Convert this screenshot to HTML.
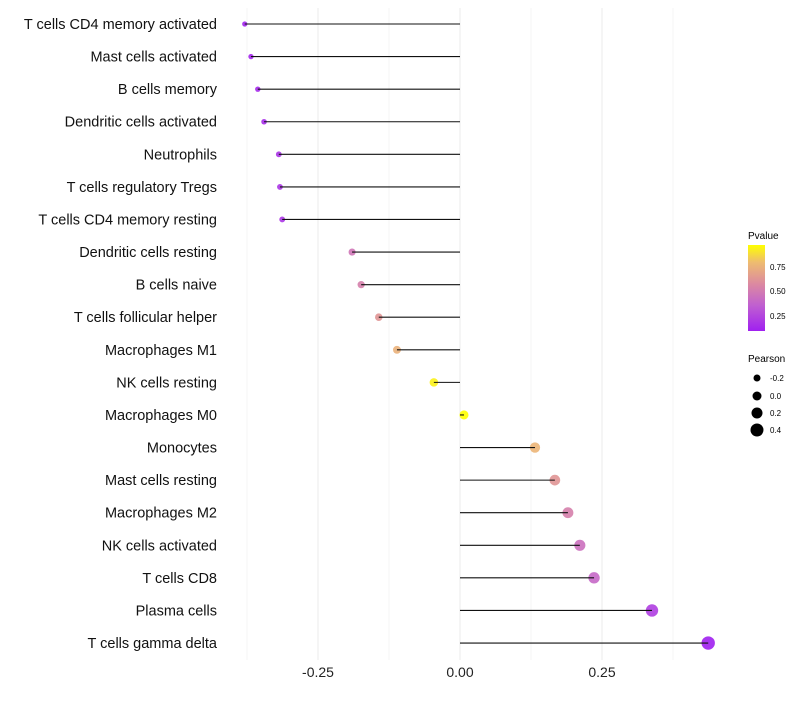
<!DOCTYPE html>
<html><head><meta charset="utf-8"><style>
body{margin:0;background:#fff;font-family:"Liberation Sans",sans-serif}
</style></head><body>
<svg width="800" height="700" id="c">
<defs><linearGradient id="g" x1="0" y1="1" x2="0" y2="0">
<stop offset="0" stop-color="#a020f0"/><stop offset="0.3" stop-color="#c060d0"/><stop offset="0.55" stop-color="#dc8aa0"/><stop offset="0.8" stop-color="#eebc70"/><stop offset="1" stop-color="#ffff00"/></linearGradient></defs>
<g id="grid"></g><g id="dots"></g><g id="marks"></g><g id="labels"></g>
<g>
<text x="748" y="239" font-size="10">Pvalue</text>
<rect x="748" y="245" width="17" height="86" fill="url(#g)"/>
<text x="770" y="270" font-size="8">0.75</text><text x="770" y="294" font-size="8">0.50</text><text x="770" y="319" font-size="8">0.25</text>
</g>
<g>
<text x="748" y="362" font-size="10">Pearson</text>
<circle cx="757" cy="378" r="3.5"/><text x="770" y="381" font-size="8">-0.2</text>
<circle cx="757" cy="396" r="4.5"/><text x="770" y="399" font-size="8">0.0</text>
<circle cx="757" cy="413" r="5.5"/><text x="770" y="416" font-size="8">0.2</text>
<circle cx="757" cy="430" r="6.5"/><text x="770" y="433" font-size="8">0.4</text>
</g>
</svg>
<script>
const categories=["T cells CD4 memory activated","Mast cells activated","B cells memory","Dendritic cells activated","Neutrophils","T cells regulatory  Tregs ","T cells CD4 memory resting","Dendritic cells resting","B cells naive","T cells follicular helper","Macrophages M1","NK cells resting","Macrophages M0","Monocytes","Mast cells resting","Macrophages M2","NK cells activated","T cells CD8","Plasma cells","T cells gamma delta"];
const pearson=[-0.379,-0.368,-0.356,-0.345,-0.319,-0.317,-0.313,-0.190,-0.174,-0.143,-0.111,-0.046,0.007,0.132,0.167,0.190,0.211,0.236,0.338,0.437];
const pvalues=[0.1,0.11,0.12,0.13,0.16,0.17,0.17,0.45,0.5,0.6,0.72,0.92,0.97,0.74,0.6,0.5,0.42,0.38,0.2,0.07];
const ticks=[-0.25,0,0.25];
const tickLabels=["-0.25","0.00","0.25"];
const minorTicks=[-0.375,-0.125,0.125,0.375];
const NS="http://www.w3.org/2000/svg";
const x=v=>460+v*568;
const y=i=>24+i*32.58;
const rad=v=>4.5+5*v;
const stops=[[0.08,[160,32,240]],[0.34,[192,96,208]],[0.55,[220,138,160]],[0.77,[238,188,112]],[0.96,[255,255,0]]];
function col(p){if(p<=stops[0][0])return "rgb("+stops[0][1]+")";for(let k=1;k<stops.length;k++){if(p<=stops[k][0]){const a=stops[k-1],b=stops[k],t=(p-a[0])/(b[0]-a[0]);return "rgb("+a[1].map((c,j)=>Math.round(c+(b[1][j]-c)*t))+")";}}return "rgb("+stops[4][1]+")";}
function mk(t,a,p){const e=document.createElementNS(NS,t);for(const k in a)e.setAttribute(k,a[k]);p.appendChild(e);return e;}
const grid=document.getElementById('grid'),dots=document.getElementById('dots'),marks=document.getElementById('marks'),labels=document.getElementById('labels');
minorTicks.forEach(v=>{const l=mk('line',{x1:x(v),x2:x(v),y1:8,y2:660,stroke:'#f4f4f4','stroke-width':1},grid);

});
ticks.forEach((v,i)=>{const l=mk('line',{x1:x(v),x2:x(v),y1:8,y2:660,stroke:'#ebebeb','stroke-width':1},grid);


const t=mk('text',{x:x(v),y:677,'font-size':14,'text-anchor':'middle',fill:'#222'},labels);t.textContent=tickLabels[i];

});
categories.forEach((c,i)=>{
const d=mk('circle',{cx:x(pearson[i]),cy:y(i),r:rad(pearson[i]),fill:col(pvalues[i]),'fill-opacity':0.9},dots);


const l=mk('line',{x1:x(0),x2:x(pearson[i]),y1:y(i),y2:y(i),stroke:'#111','stroke-width':1.1},marks);


const t=mk('text',{x:217,y:y(i)+5,'font-size':14.5,'text-anchor':'end',fill:'#111'},labels);t.textContent=c;

});
</script>
</body></html>
